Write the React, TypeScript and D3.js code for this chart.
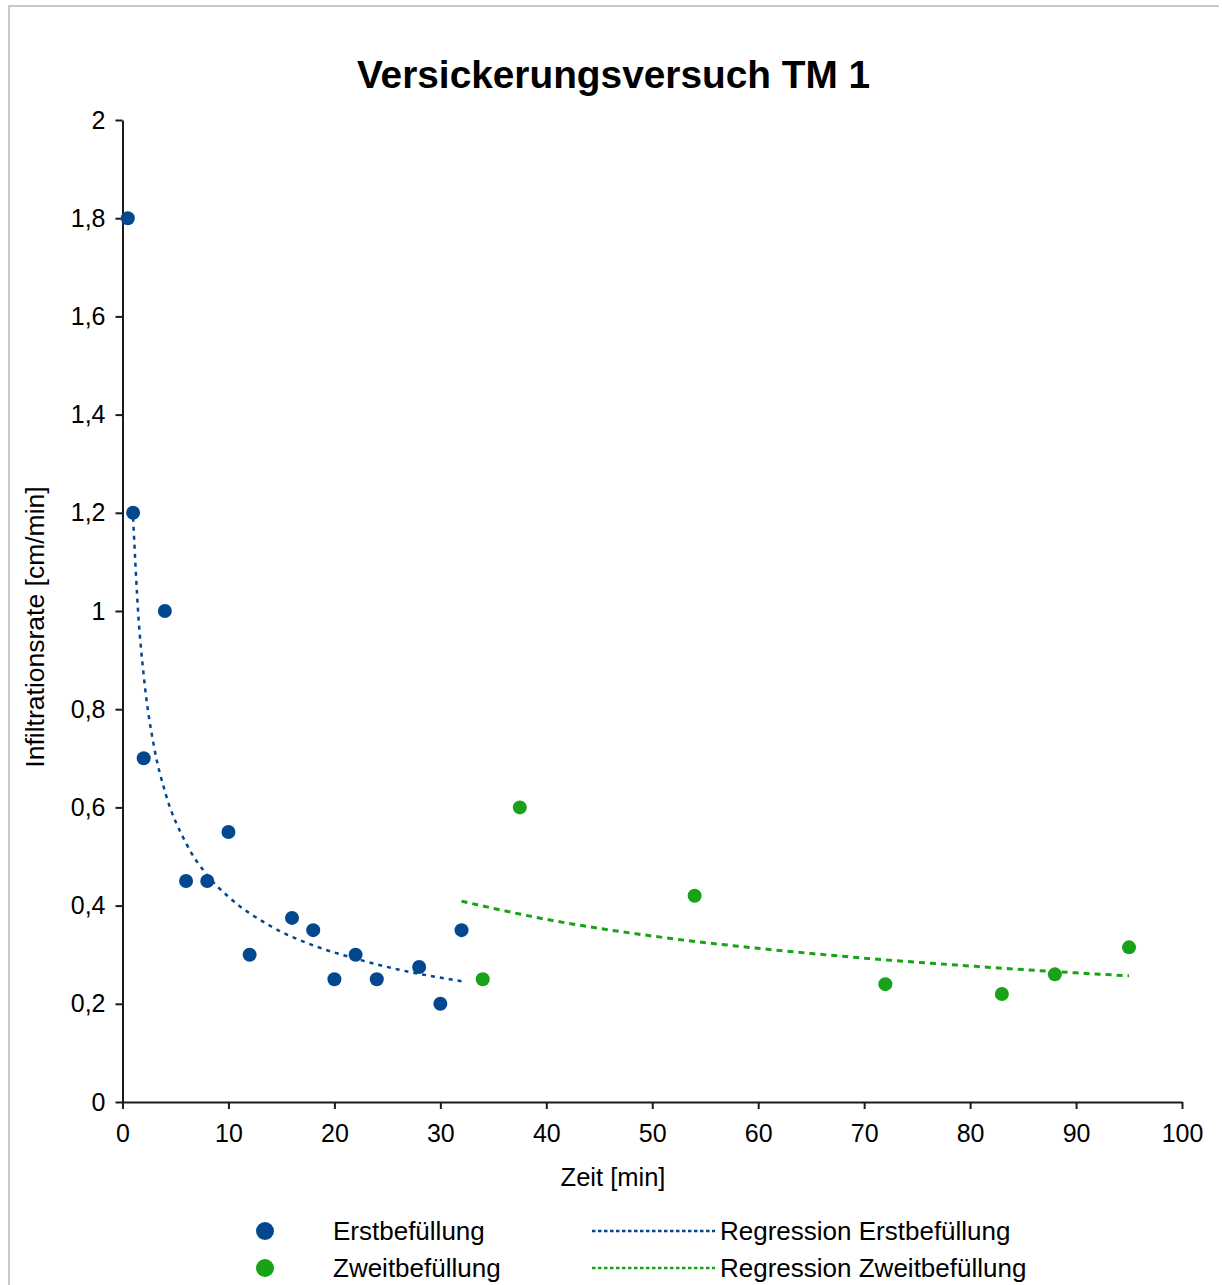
import React, { useEffect, useRef } from 'react';
import * as d3 from 'd3';

// Erstbefüllung (first filling)
const erstZeit = [0.5, 1, 2, 4, 6, 8, 10, 12, 16, 18, 20, 22, 24, 28, 30, 32];
const erstRate = [1.8, 1.2, 0.7, 1.0, 0.45, 0.45, 0.55, 0.3, 0.375, 0.35, 0.25, 0.3, 0.25, 0.275, 0.2, 0.35];

// Zweitbefüllung (second filling)
const zweitZeit = [34, 37.5, 54, 72, 83, 88, 95];
const zweitRate = [0.25, 0.6, 0.42, 0.24, 0.22, 0.26, 0.315];

// regression curves
const regErstZeit = [1, 1.5, 2, 3, 4, 6, 8, 10, 14, 18, 22, 26, 32];
const regErstRate = [1.19, 0.99, 0.869, 0.721, 0.633, 0.527, 0.462, 0.418, 0.358, 0.319, 0.292, 0.27, 0.246];
const regZweitZeit = [32, 40, 50, 60, 70, 80, 90, 95];
const regZweitRate = [0.409, 0.372, 0.338, 0.313, 0.293, 0.277, 0.263, 0.257];

const xTicks = [0, 10, 20, 30, 40, 50, 60, 70, 80, 90, 100];
const yTicks = [0, 0.2, 0.4, 0.6, 0.8, 1, 1.2, 1.4, 1.6, 1.8, 2];
const yTickLabels = ['0', '0,2', '0,4', '0,6', '0,8', '1', '1,2', '1,4', '1,6', '1,8', '2'];

const BLUE = '#03488f';
const GREEN = '#18a218';
const FONT = '"Liberation Sans", Arial, sans-serif';

const W = 1222;
const H = 1285;

const App: React.FC = () => {
  const svgRef = useRef<SVGSVGElement>(null);

  useEffect(() => {
    if (!svgRef.current) return;
    const svg = d3.select(svgRef.current);
    svg.selectAll('*').remove();

    const x = d3.scaleLinear().domain([0, 100]).range([122.5, 1182]);
    const y = d3.scaleLinear().domain([0, 2]).range([1102, 120]);

    // frame (left + top edge of the cropped chart box)
    svg.append('path')
      .attr('d', `M9,${H} V6 H1219`)
      .attr('fill', 'none')
      .attr('stroke', '#c8c8c8')
      .attr('stroke-width', 2);

    svg.append('text')
      .attr('x', 613.5)
      .attr('y', 88)
      .attr('text-anchor', 'middle')
      .attr('font-family', FONT)
      .attr('font-weight', 'bold')
      .attr('font-size', 38.8)
      .attr('fill', '#000')
      .text('Versickerungsversuch TM 1');

    // axes
    const yAxis = svg.append('g')
      .attr('transform', `translate(${x(0)},0)`)
      .call(d3.axisLeft(y).tickValues(yTicks).tickSize(7).tickSizeOuter(0).tickPadding(10)
        .tickFormat((d, i) => yTickLabels[i]));
    const xAxis = svg.append('g')
      .attr('transform', `translate(0,${y(0)})`)
      .call(d3.axisBottom(x).tickValues(xTicks).tickSize(7).tickSizeOuter(0).tickPadding(15)
        .tickFormat(d => String(d)));
    [yAxis, xAxis].forEach(g => {
      g.selectAll('path, line').attr('stroke', '#1a1a1a').attr('stroke-width', 2);
      g.selectAll('text')
        .attr('font-family', FONT)
        .attr('font-size', 25)
        .attr('fill', '#000');
    });

    svg.append('text')
      .attr('x', 613)
      .attr('y', 1186)
      .attr('text-anchor', 'middle')
      .attr('font-family', FONT)
      .attr('font-size', 25.5)
      .attr('fill', '#000')
      .text('Zeit [min]');

    svg.append('text')
      .attr('transform', 'translate(44,627) rotate(-90)')
      .attr('text-anchor', 'middle')
      .attr('font-family', FONT)
      .attr('font-size', 26.5)
      .attr('fill', '#000')
      .text('Infiltrationsrate [cm/min]');

    // regression curves
    const line = d3.line<[number, number]>()
      .x(d => x(d[0]))
      .y(d => y(d[1]))
      .curve(d3.curveMonotoneX);

    svg.append('path')
      .attr('d', line(regErstZeit.map((t, i) => [t, regErstRate[i]] as [number, number])))
      .attr('fill', 'none')
      .attr('stroke', BLUE)
      .attr('stroke-width', 2.5)
      .attr('stroke-dasharray', '4,5');

    svg.append('path')
      .attr('d', line(regZweitZeit.map((t, i) => [t, regZweitRate[i]] as [number, number])))
      .attr('fill', 'none')
      .attr('stroke', GREEN)
      .attr('stroke-width', 3)
      .attr('stroke-dasharray', '6,5');

    // points
    svg.append('g').selectAll('circle')
      .data(erstZeit.map((t, i) => [t, erstRate[i]]))
      .enter().append('circle')
      .attr('cx', d => x(d[0]))
      .attr('cy', d => y(d[1]))
      .attr('r', 7)
      .attr('fill', BLUE);

    svg.append('g').selectAll('circle')
      .data(zweitZeit.map((t, i) => [t, zweitRate[i]]))
      .enter().append('circle')
      .attr('cx', d => x(d[0]))
      .attr('cy', d => y(d[1]))
      .attr('r', 7)
      .attr('fill', GREEN);

    // legend
    const legendItems = [
      { label: 'Erstbefüllung', reg: 'Regression Erstbefüllung', color: BLUE, yy: 1231 },
      { label: 'Zweitbefüllung', reg: 'Regression Zweitbefüllung', color: GREEN, yy: 1268 },
    ];
    const lg = svg.append('g');
    legendItems.forEach(it => {
      lg.append('circle').attr('cx', 265).attr('cy', it.yy).attr('r', 9).attr('fill', it.color);
      lg.append('text')
        .attr('x', 333).attr('y', it.yy + 9)
        .attr('font-family', FONT).attr('font-size', 26).attr('fill', '#000')
        .text(it.label);
      lg.append('line')
        .attr('x1', 592).attr('x2', 715).attr('y1', it.yy).attr('y2', it.yy)
        .attr('stroke', it.color).attr('stroke-width', 2.5)
        .attr('stroke-dasharray', '3.5,2.5');
      lg.append('text')
        .attr('x', 720).attr('y', it.yy + 9)
        .attr('font-family', FONT).attr('font-size', 26).attr('fill', '#000')
        .text(it.reg);
    });
  }, []);

  return (
    <div style={{ position: 'absolute', left: 0, top: 0, width: W, height: H, background: '#fff' }}>
      <svg ref={svgRef} width={W} height={H} style={{ display: 'block' }} />
    </div>
  );
};

export default App;
